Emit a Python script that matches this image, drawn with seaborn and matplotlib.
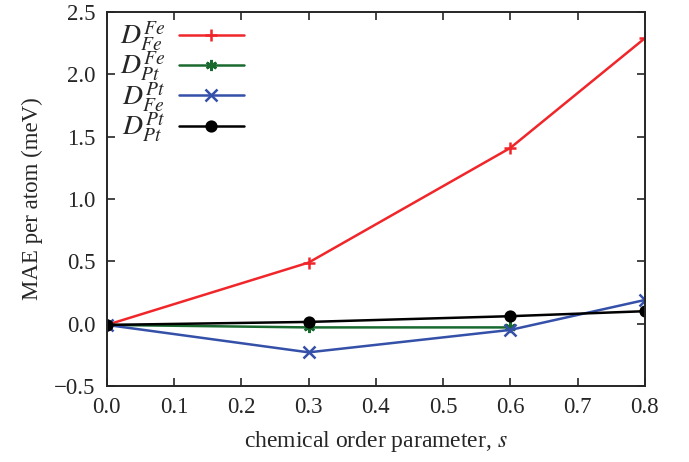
import matplotlib
matplotlib.use("Agg")
import matplotlib.pyplot as plt
import seaborn as sns
import pandas as pd

s_values = [0.0, 0.3, 0.6, 0.8]
d_fe_fe = [-0.01, 0.49, 1.41, 2.29]
d_pt_fe = [-0.01, -0.03, -0.03]
d_fe_pt = [-0.01, -0.23, -0.05, 0.19]
d_pt_pt = [-0.01, 0.014, 0.06, 0.10]

labels = [r"$D_{Fe}^{Fe}$", r"$D_{Pt}^{Fe}$", r"$D_{Fe}^{Pt}$", r"$D_{Pt}^{Pt}$"]
series = [d_fe_fe, d_pt_fe, d_fe_pt, d_pt_pt]
colors = ["#f0262a", "#1a6a30", "#3450a8", "#000000"]
markers = ["+", (6, 2, 0), "x", "o"]
msizes = [8, 8, 8, 7]

sns.set_style("ticks")
plt.rcParams["font.family"] = ["Liberation Serif", "DejaVu Serif"]
plt.rcParams["mathtext.fontset"] = "stix"

fig = plt.figure(figsize=(6.89, 4.62), dpi=100)
ax = fig.add_axes([0.155, 0.1645, 0.781, 0.8095])

for lab, vals, c, m, ms in zip(labels, series, colors, markers, msizes):
    df = pd.DataFrame({"s": s_values[:len(vals)], "v": vals})
    sns.lineplot(data=df, x="s", y="v", ax=ax, color=c, marker=m, markersize=ms,
                 markeredgecolor=c, markeredgewidth=1.8, linewidth=1.8, label=lab)

ax.set_xlim(0.0, 0.8)
ax.set_ylim(-0.5, 2.5)
ax.set_xticks([0.0, 0.1, 0.2, 0.3, 0.4, 0.5, 0.6, 0.7, 0.8])
ax.set_yticks([-0.5, 0.0, 0.5, 1.0, 1.5, 2.0, 2.5])
ax.set_xticklabels([f"{t:.1f}" for t in ax.get_xticks()])
ax.set_yticklabels([f"{t:.1f}".replace("-", "\u2212") for t in ax.get_yticks()])
ax.tick_params(direction="in", top=True, right=True, length=6, width=1.2,
               labelsize=16.5, pad=8)
for sp in ax.spines.values():
    sp.set_linewidth(1.4)
    sp.set_visible(True)
ax.set_xlabel(r"chemical order parameter, $s$", fontsize=17, labelpad=8)
ax.set_ylabel("MAE per atom (meV)", fontsize=16.5, labelpad=8)

leg = ax.legend(loc="upper left", frameon=False, markerfirst=False, fontsize=20,
                handlelength=2.35, labelspacing=-0.14, borderaxespad=0.0,
                handletextpad=0.5, bbox_to_anchor=(0.003, 1.009))

fig.savefig("out.png", dpi=100)
